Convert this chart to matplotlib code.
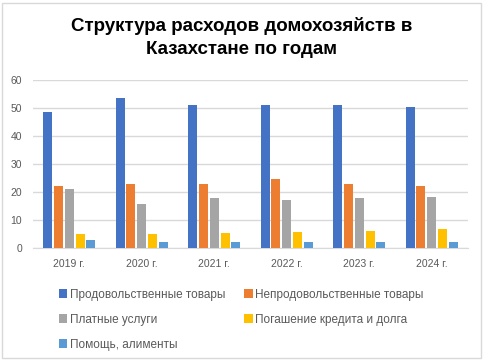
import matplotlib.pyplot as plt
from matplotlib.patches import Rectangle
import numpy as np

plt.rcParams['font.family'] = ['Liberation Sans', 'DejaVu Sans']

# data
years = ['2019 г.', '2020 г.', '2021 г.', '2022 г.', '2023 г.', '2024 г.']
series_names = ['Продовольственные товары', 'Непродовольственные товары',
                'Платные услуги', 'Погашение кредита и долга', 'Помощь, алименты']
food = [48.4, 53.7, 51.2, 50.9, 51.2, 50.5]
nonfood = [22.3, 23.0, 23.0, 24.5, 23.0, 22.3]
services = [21.1, 15.6, 17.7, 17.0, 17.7, 18.1]
credit = [4.9, 4.9, 5.2, 5.6, 5.9, 6.7]
help_ = [2.7, 2.0, 2.0, 2.0, 2.0, 2.0]
colors = ['#4472C4', '#ED7D31', '#A5A5A5', '#FFC000', '#5B9BD5']

W, H = 485, 361
fig = plt.figure(figsize=(W / 100, H / 100), dpi=100)

# chart border
fig.patches.append(Rectangle((2 / W, 3 / H), 479 / W, 355 / H, transform=fig.transFigure,
                             fill=False, edgecolor='#D9D9D9', linewidth=1))

fig.text(242 / W, 1 - 26 / H, 'Структура расходов домохозяйств в', ha='center', va='center',
         fontsize=13.5, fontweight='bold', color='black')
fig.text(242 / W, 1 - 50 / H, 'Казахстане по годам', ha='center', va='center',
         fontsize=13.5, fontweight='bold', color='black')

# plot area in pixels
x0, x1, ytop, ybot = 33, 468, 80, 248
ax = fig.add_axes([x0 / W, 1 - ybot / H, (x1 - x0) / W, (ybot - ytop) / H])

x = np.arange(len(years))
slot = 0.149
bw = 0.124
all_series = [food, nonfood, services, credit, help_]
for i, (vals, name, c) in enumerate(zip(all_series, series_names, colors)):
    ax.bar(x + (i - 2) * slot, vals, width=bw, color=c, label=name, zorder=3)

ax.set_xlim(-0.5, len(years) - 0.5)
ax.set_ylim(0, 60)
ax.set_yticks(range(0, 61, 10))
ax.set_xticks(x)
ax.set_xticklabels(years)
ax.grid(axis='y', color='#D9D9D9', linewidth=1, zorder=0)
ax.tick_params(length=0, labelsize=7.5, colors='#595959')
ax.tick_params(axis='x', pad=8)
ax.tick_params(axis='y', pad=8)
for s in ['top', 'right', 'left']:
    ax.spines[s].set_visible(False)
ax.spines['bottom'].set_color('#D9D9D9')

# legend filled row by row
handles, labels = ax.get_legend_handles_labels()
order = [0, 2, 4, 1, 3]
leg = fig.legend([handles[i] for i in order], [labels[i] for i in order],
                 loc='upper left', bbox_to_anchor=(48 / W, 1 - 278 / H),
                 ncol=2, frameon=False, fontsize=8.5, handlelength=0.75, handleheight=0.75,
                 handletextpad=0.2, columnspacing=1.6, labelspacing=1.1, labelcolor='#595959')

fig.savefig('out.png', dpi=100, facecolor='white')
